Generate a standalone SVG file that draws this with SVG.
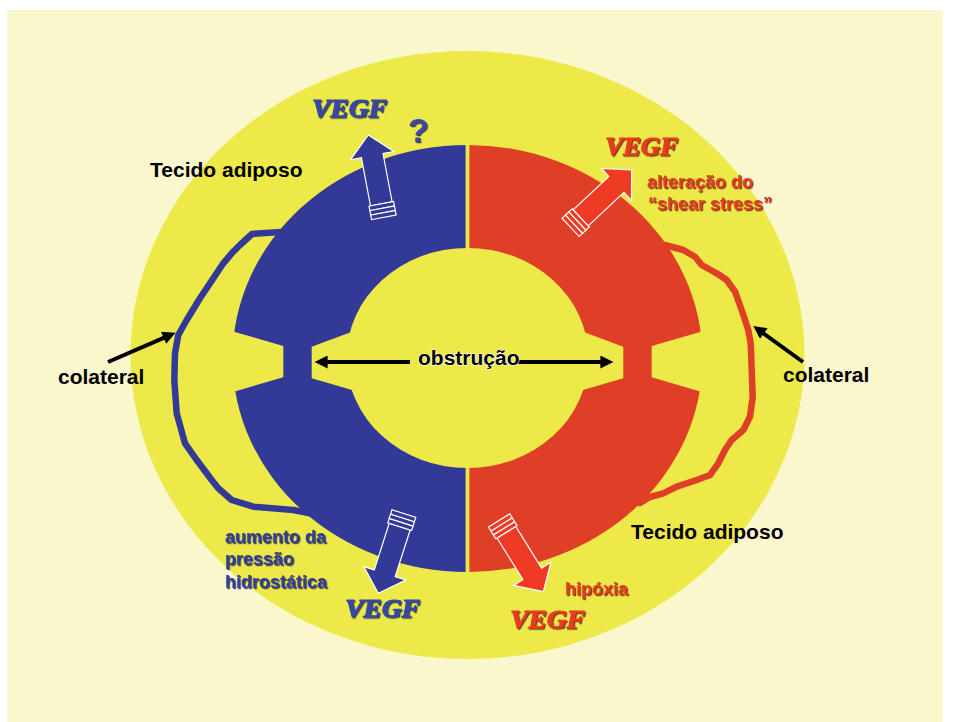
<svg xmlns="http://www.w3.org/2000/svg" width="954" height="722" viewBox="0 0 954 722">
  <style>
    .lbl { font-family: "Liberation Sans", Arial, sans-serif; font-weight: bold; }
    .black { fill: #000; font-size: 21px; }
    .redtxt { fill: #e83b24; font-size: 18px; filter: url(#shRed); }
    .bluetxt { fill: #333c98; font-size: 18px; filter: url(#shBlue); }
    .vegf { font-family: "Liberation Serif", "Times New Roman", serif; font-weight: bold; font-style: italic; font-size: 25px; stroke-width: 0.9; stroke-linejoin: round; }
    .vegf-b { fill: #3549a4; stroke: #3549a4; filter: url(#shBlue); }
    .vegf-r { fill: #e83b24; stroke: #e83b24; filter: url(#shRed); }
    .blk-arrow { stroke: #fff; stroke-width: 1.2; stroke-linejoin: miter; }
    .pointer { stroke: #000; stroke-width: 4; fill: none; }
    .vessel { fill: none; stroke-width: 6.5; stroke-linejoin: round; stroke-linecap: round; }
  </style>
  <defs>
    <filter id="shRed" x="-10%" y="-20%" width="130%" height="150%">
      <feDropShadow dx="1.2" dy="1.2" stdDeviation="0.3" flood-color="#5a140a" flood-opacity="0.85"/>
    </filter>
    <filter id="shBlue" x="-10%" y="-20%" width="130%" height="150%">
      <feDropShadow dx="1.2" dy="1.2" stdDeviation="0.3" flood-color="#101850" flood-opacity="0.8"/>
    </filter>
    <marker id="head" viewBox="0 0 10 10" refX="2" refY="5" markerWidth="15" markerHeight="13" markerUnits="userSpaceOnUse" orient="auto">
      <path d="M0,0 L10,5 L0,10 Z" fill="#000"/>
    </marker>
    <!-- block arrow pointing up, tip at origin -->
    <g id="blockArrow">
      <path d="M0,0 L22,21 L11,21 L11,70 L-11,70 L-11,21 L-22,21 Z"/>
      <rect x="-12.5" y="70" width="25" height="4.6"/>
      <rect x="-12.5" y="74.6" width="25" height="4.6"/>
      <rect x="-12.5" y="79.2" width="25" height="4.6"/>
    </g>
    <clipPath id="leftHalf"><rect x="0" y="0" width="467.5" height="722"/></clipPath>
    <clipPath id="rightHalf"><rect x="467.5" y="0" width="486.5" height="722"/></clipPath>
  </defs>

  <!-- backdrop -->
  <rect x="0" y="0" width="954" height="722" fill="#ffffff"/>
  <rect x="7" y="10" width="936" height="712" fill="#fbf7cc"/>
  <ellipse cx="467.5" cy="355" rx="337" ry="304" fill="#ede948"/>

  <!-- vessel ring: blue left half, red right half -->
  <g id="ring">
    <path clip-path="url(#leftHalf)" fill="#333996" fill-rule="evenodd"
          d="M232.5,358.5 a235,213.5 0 1,0 470,0 a235,213.5 0 1,0 -470,0 Z M346.5,358 a121,110 0 1,0 242,0 a121,110 0 1,0 -242,0 Z"/>
    <path clip-path="url(#rightHalf)" fill="#de3f26" fill-rule="evenodd"
          d="M232.5,358.5 a235,213.5 0 1,0 470,0 a235,213.5 0 1,0 -470,0 Z M346.5,358 a121,110 0 1,0 242,0 a121,110 0 1,0 -242,0 Z"/>
    <rect x="465.6" y="140" width="3.8" height="440" fill="#ede948"/>
    <!-- obstruction notches -->
    <g fill="#ede948">
      <polygon points="222,328 234,331.7 283.3,346 283.3,377.3 234,391.7 222,395"/>
      <polygon points="352,331.7 311.7,346.7 311.7,378.3 352,390 362,390 362,331.7"/>
      <polygon points="713,328 701,331.7 651.7,346 651.7,377.3 701,391.7 713,395"/>
      <polygon points="583,331.7 623.3,346.7 623.3,378.3 583,390 573,390 573,331.7"/>
    </g>
  </g>

  <!-- collateral vessels and pointers -->
  <g id="connectors">
    <path class="vessel" stroke="#333996"
          d="M281,232 L252,234 L240,245 L231.7,253.3 L223.3,263.3 L210,283.3 L200,298.3 L186.7,320 L178.3,335 L175,353.3 L174.3,380 L176.7,413.3 L185,443.3 L196.7,460 L211.7,480 L218.3,488.3 L231.7,500 L253.3,506.7 L293.3,510 L310,513.3 L322,516"/>
    <path class="vessel" stroke="#de3f26"
          d="M665,245 L683.3,250 L695,256.7 L701.7,265 L716.7,273.3 L726.7,280 L735,291.7 L741.7,310 L748.3,330 L750.7,343.3 L751.7,370 L752.7,396.7 L750,416.7 L743.3,430 L731.7,440 L725,450 L718.3,463.3 L710,475 L696.7,480 L676.7,486.7 L663.3,493.3 L650,497 L640,503"/>
    <line class="pointer" x1="108" y1="362" x2="166" y2="336.8" marker-end="url(#head)"/>
    <line class="pointer" x1="803" y1="362" x2="761.7" y2="332" marker-end="url(#head)"/>
    <line class="pointer" x1="410" y1="362" x2="325" y2="362" marker-end="url(#head)"/>
    <line class="pointer" x1="517" y1="362" x2="603" y2="362" marker-end="url(#head)"/>
  </g>

  <!-- VEGF release arrows -->
  <g id="arrow-top-blue" class="blk-arrow" fill="#333996">
    <use href="#blockArrow" transform="translate(368.3,135) rotate(-10.7)"/>
  </g>
  <g id="arrow-top-red" class="blk-arrow" fill="#ef3b23">
    <use href="#blockArrow" transform="translate(631.7,170) rotate(46.8)"/>
  </g>
  <g id="arrow-bottom-blue" class="blk-arrow" fill="#333996">
    <use href="#blockArrow" transform="translate(378.3,593.3) rotate(197.8)"/>
  </g>
  <g id="arrow-bottom-red" class="blk-arrow" fill="#ef3b23">
    <use href="#blockArrow" transform="translate(543.3,591.7) rotate(148.2)"/>
  </g>

  <!-- labels -->
  <g id="labels">
    <text class="lbl black" x="150" y="176.5">Tecido adiposo</text>
    <text class="lbl black" x="631" y="539">Tecido adiposo</text>
    <text class="lbl black" x="58" y="383.5">colateral</text>
    <text class="lbl black" x="783" y="381.5">colateral</text>
    <text class="lbl black" x="418" y="365" stroke="#fff" stroke-width="1.2" paint-order="stroke">obstrução</text>

    <text class="lbl" x="408" y="142" font-size="34" fill="#3a4aa3" filter="url(#shBlue)">?</text>

    <text class="vegf vegf-b" x="312" y="116.7" textLength="75" lengthAdjust="spacingAndGlyphs">VEGF</text>
    <text class="vegf vegf-r" x="605" y="155" textLength="73" lengthAdjust="spacingAndGlyphs">VEGF</text>
    <text class="vegf vegf-b" x="345" y="616.7" textLength="75" lengthAdjust="spacingAndGlyphs">VEGF</text>
    <text class="vegf vegf-r" x="510" y="628" textLength="75" lengthAdjust="spacingAndGlyphs">VEGF</text>

    <text class="lbl redtxt" x="647" y="188">alteração do</text>
    <text class="lbl redtxt" x="648" y="210">“shear stress”</text>
    <text class="lbl redtxt" x="565" y="595">hipóxia</text>

    <text class="lbl bluetxt" x="225" y="543.3">aumento da</text>
    <text class="lbl bluetxt" x="225" y="565">pressão</text>
    <text class="lbl bluetxt" x="225" y="588.3">hidrostática</text>
  </g>
</svg>
